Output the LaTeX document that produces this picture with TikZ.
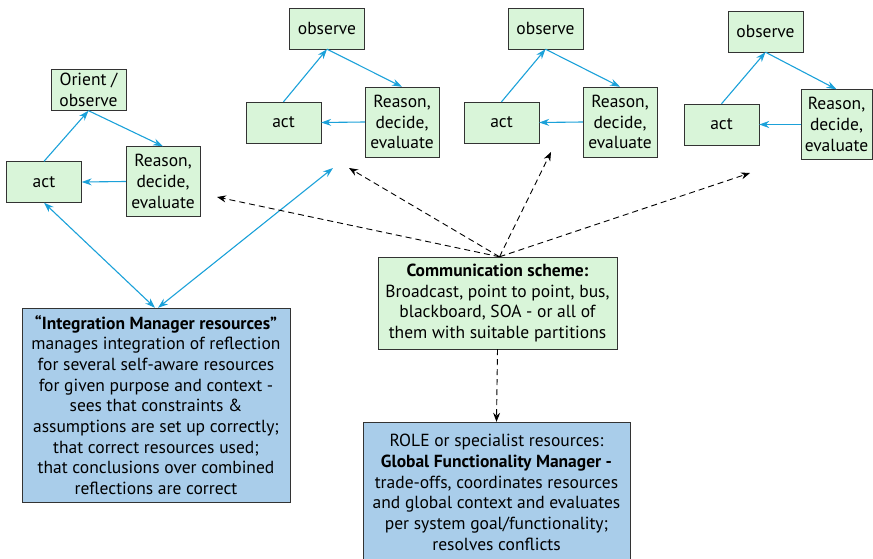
\documentclass[tikz,border=0pt]{standalone}
\usepackage{fontspec}
\setmainfont{PT Sans}
\usetikzlibrary{shapes.geometric, arrows.meta}

\definecolor{boxgreen}{HTML}{D9F5D9}
\definecolor{boxblue}{HTML}{A9CDEA}
\definecolor{linkblue}{HTML}{1BA1D9}

\tikzstyle{loopbox} = [rectangle, minimum width=75pt, minimum height=41pt, inner sep=2pt, text centered, align=center, draw=black!80, fill=boxgreen]
\tikzstyle{reasonbox} = [loopbox, minimum width=74pt, minimum height=70pt]
\tikzstyle{commbox} = [loopbox, minimum width=239pt, minimum height=92pt]
\tikzstyle{managerbox} = [rectangle, inner sep=2pt, text centered, align=center, draw=black!80, fill=boxblue]
\tikzstyle{loop} = [linkblue, line width=1.1pt, ->, >={Stealth[length=10pt,width=7pt]}]
\tikzstyle{link} = [linkblue, line width=1.1pt, <->, >={Stealth[length=10pt,width=7pt]}]
\tikzstyle{broadcast} = [black, line width=0.9pt, dash pattern=on 6pt off 4pt, ->, >={Stealth[length=9pt,width=7pt]}]

\begin{document}
\begin{tikzpicture}[x=1pt, y=-1pt, font=\fontsize{17.5}{20.7}\selectfont]
\useasboundingbox (0,0) rectangle (873,559);

% Nodes
\node (obs1) [loopbox] at (88.5,90) {Orient /\\observe};
\node (act1) [loopbox] at (44,182) {act};
\node (rea1) [reasonbox] at (163,181.5) {Reason,\\decide,\\evaluate};

\node (obs2) [loopbox] at (327,28.5) {observe};
\node (act2) [loopbox] at (283.5,122.5) {act};
\node (rea2) [reasonbox] at (402,122) {Reason,\\decide,\\evaluate};

\node (obs3) [loopbox] at (545.5,28.5) {observe};
\node (act3) [loopbox] at (501.5,122.5) {act};
\node (rea3) [reasonbox] at (620,122) {Reason,\\decide,\\evaluate};

\node (obs4) [loopbox] at (765.5,31.5) {observe};
\node (act4) [loopbox] at (721.5,124.5) {act};
\node (rea4) [reasonbox, minimum width=71pt] at (836.5,124.5) {Reason,\\decide,\\evaluate};

\node (comm) [commbox] at (497.5,303) {\textbf{Communication scheme:}\\Broadcast, point to point, bus,\\blackboard, SOA - or all of\\them with suitable partitions};

\node (integ) [managerbox, minimum width=268pt, minimum height=194pt] at (156,405) {\textbf{“Integration Manager resources”}\\manages integration of reflection\\for several self-aware resources\\for given purpose and context -\\sees that constraints \&\\assumptions are set up correctly;\\that correct resources used;\\that conclusions over combined\\reflections are correct};

\node (global) [managerbox, minimum width=267pt, minimum height=141pt] at (496.5,492.5) {ROLE or specialist resources:\\\textbf{Global Functionality Manager -}\\trade-offs, coordinates resources\\and global context and evaluates\\per system goal/functionality;\\resolves conflicts};

% Free ends of the connectors
\coordinate (to1) at (217,197);
\coordinate (to2) at (349,168);
\coordinate (to3) at (551,152);
\coordinate (to4) at (750,173);
\coordinate (near2) at (333,168);

% Arrows
\draw [loop] (act1.north) -- (obs1.south);
\draw [loop] (obs1.south) -- (rea1.north);
\draw [loop] (rea1.west) -- (act1.east);

\draw [loop] (act2.north) -- (obs2.south);
\draw [loop] (obs2.south) -- (rea2.north);
\draw [loop] (rea2.west) -- (act2.east);

\draw [loop] (act3.north) -- (obs3.south);
\draw [loop] (obs3.south) -- (rea3.north);
\draw [loop] (rea3.west) -- (act3.east);

\draw [loop] (act4.north) -- (obs4.south);
\draw [loop] (obs4.south) -- (rea4.north);
\draw [loop] (rea4.west) -- (act4.east);

\draw [link] (act1.south) -- ([xshift=-1pt]integ.north);
\draw [link] (near2) -- ([xshift=2pt]integ.north);

\draw [broadcast] ([xshift=2pt]comm.north) -- (to1);
\draw [broadcast] ([xshift=2pt]comm.north) -- (to2);
\draw [broadcast] ([xshift=2pt]comm.north) -- (to3);
\draw [broadcast] ([xshift=2pt]comm.north) -- (to4);
\draw [broadcast] (comm.south) -- (global.north);

\end{tikzpicture}
\end{document}
